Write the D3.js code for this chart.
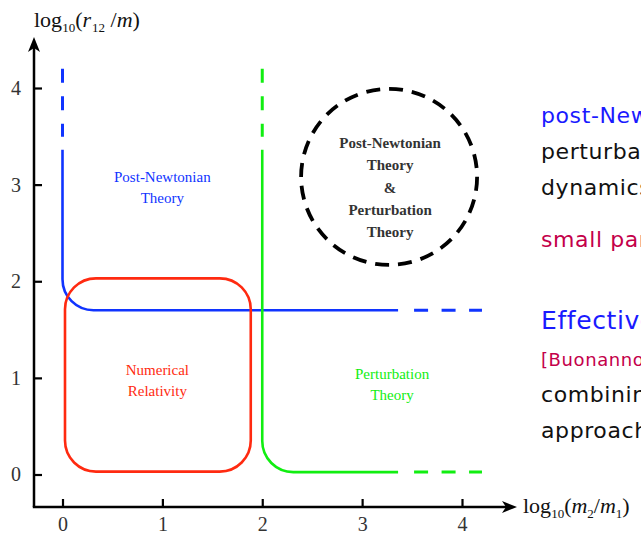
<!DOCTYPE html>
<html>
<head>
<meta charset="utf-8">
<script src="https://cdn.jsdelivr.net/npm/d3@7"></script>
<style>
  body { margin: 0; background: #fff; }
  svg { display: block; }
</style>
</head>
<body>
<div id="chart"></div>
<script>
// ---- data ----
const xTicks = [0, 1, 2, 3, 4];
const yTicks = [0, 1, 2, 3, 4];

// boundary of each region: [start, corner, end] in log units
const pnEdge = [[0, 4.2], [0, 1.7], [4.2, 1.7]];
const ptEdge = [[2, 4.2], [2, 0.025], [4.2, 0.025]];
const pnSolid = [3.36, 3.36];      // where the solid line turns dashed (y on vertical, x on horizontal)
const ptSolid = [3.36, 3.36];
const nrBox = [0.025, 0.03, 1.885, 2.03]; // x0, y0, x1, y1
const overlapCircle = [3.27, 3.08];

const regionLabels = [
  {lines: ["Post-Newtonian", "Theory"], at: [1.0, 3.03], cls: "pn"},
  {lines: ["Numerical", "Relativity"], at: [0.95, 1.03], cls: "nr"},
  {lines: ["Perturbation", "Theory"], at: [3.3, 0.99], cls: "pt"}
];
const circleLines = ["Post-Newtonian", "Theory", "&", "Perturbation", "Theory"];

const notes = [
  {text: "post-Newtonian theory:", kind: "head"},
  {text: "perturbative expansion of", kind: "body"},
  {text: "dynamics in v/c", kind: "body"},
  {text: "small parameter: v/c", kind: "cite"},
  {text: "Effective One Body", kind: "big"},
  {text: "[Buonanno & Damour 1999]", kind: "ref"},
  {text: "combining results of", kind: "body"},
  {text: "approaches", kind: "body"}
];

// ---- setup ----
const width = 641, height = 536;
const blue = "#1034ff", green = "#11ee11", red = "#ff2a10";

const svg = d3.select("#chart").append("svg")
    .attr("width", width)
    .attr("height", height);

const x = d3.scaleLinear().domain([0, 4]).range([62.5, 462]);
const y = d3.scaleLinear().domain([0, 4]).range([474.5, 88]);

const axisX = 34, axisY = 507;

// axes lines with arrows
svg.append("line").attr("x1", axisX).attr("y1", axisY).attr("x2", axisX).attr("y2", 46)
    .attr("stroke", "#000").attr("stroke-width", 2.5);
svg.append("line").attr("x1", axisX - 1.2).attr("y1", axisY).attr("x2", 508).attr("y2", axisY)
    .attr("stroke", "#000").attr("stroke-width", 2.5);
svg.append("path").attr("d", `M${axisX},37 L${axisX + 6},52 L${axisX},48 L${axisX - 6},52 Z`).attr("fill", "#000");
svg.append("path").attr("d", `M517,${axisY} L502,${axisY - 6} L506,${axisY} L502,${axisY + 6} Z`).attr("fill", "#000");

// ticks via d3 axes
const yAxis = svg.append("g")
    .attr("transform", `translate(${axisX},0)`)
    .call(d3.axisLeft(y).tickValues(yTicks).tickFormat(d3.format("d"))
      .tickSizeInner(-8).tickSizeOuter(0).tickPadding(13));
const xAxis = svg.append("g")
    .attr("transform", `translate(0,${axisY})`)
    .call(d3.axisBottom(x).tickValues(xTicks).tickFormat(d3.format("d"))
      .tickSizeInner(-8).tickSizeOuter(0).tickPadding(10));

[yAxis, xAxis].forEach(a => {
  a.select(".domain").remove();
  a.selectAll(".tick line").attr("stroke", "#000").attr("stroke-width", 2.2);
  a.selectAll(".tick text")
      .attr("fill", "#333")
      .style("font-family", "'Liberation Serif', serif")
      .style("font-size", "20px");
});

// axis titles
const serif = "'Liberation Serif', 'Times New Roman', serif";
const yTitle = svg.append("text").attr("x", 34).attr("y", 27)
    .style("font-family", serif).style("font-size", "22px").attr("fill", "#111");
yTitle.append("tspan").text("log");
yTitle.append("tspan").text("10").attr("dy", 5).style("font-size", "13px");
yTitle.append("tspan").text("(").attr("dy", -5);
yTitle.append("tspan").text("r").style("font-style", "italic");
yTitle.append("tspan").text("12").attr("dy", 5).attr("dx", 1).style("font-size", "13px");
yTitle.append("tspan").text(" /").attr("dy", -5);
yTitle.append("tspan").text("m").style("font-style", "italic");
yTitle.append("tspan").text(")");

const xTitle = svg.append("text").attr("x", 523).attr("y", 513)
    .style("font-family", serif).style("font-size", "22px").attr("fill", "#111");
xTitle.append("tspan").text("log");
xTitle.append("tspan").text("10").attr("dy", 5).style("font-size", "13px");
xTitle.append("tspan").text("(").attr("dy", -5);
xTitle.append("tspan").text("m").style("font-style", "italic");
xTitle.append("tspan").text("2").attr("dy", 5).style("font-size", "13px");
xTitle.append("tspan").text("/").attr("dy", -5);
xTitle.append("tspan").text("m").style("font-style", "italic");
xTitle.append("tspan").text("1").attr("dy", 5).style("font-size", "13px");
xTitle.append("tspan").text(")").attr("dy", -5);

// region boundary: solid rounded L plus dashed ends
function drawEdge(edge, solid, color) {
  const [s, c, e] = edge;
  const r = 31;
  const p = d3.path();
  p.moveTo(x(c[0]), y(solid[0]));
  p.arcTo(x(c[0]), y(c[1]), x(e[0]), y(c[1]), r);
  p.lineTo(x(solid[1]), y(c[1]));
  svg.append("path").attr("d", p.toString())
      .attr("fill", "none").attr("stroke", color).attr("stroke-width", 2.6);
  svg.append("line")
      .attr("x1", x(s[0])).attr("y1", y(s[1]))
      .attr("x2", x(c[0])).attr("y2", y(solid[0]) - 13)
      .attr("stroke", color).attr("stroke-width", 3)
      .attr("stroke-dasharray", "14,13.5");
  svg.append("line")
      .attr("x1", x(solid[1]) + 16).attr("y1", y(c[1]))
      .attr("x2", x(e[0])).attr("y2", y(c[1]))
      .attr("stroke", color).attr("stroke-width", 3)
      .attr("stroke-dasharray", "14,13.5");
}
drawEdge(pnEdge, pnSolid, blue);
drawEdge(ptEdge, ptSolid, green);

// numerical relativity box
svg.append("rect")
    .attr("x", x(nrBox[0])).attr("y", y(nrBox[3]))
    .attr("width", x(nrBox[2]) - x(nrBox[0]))
    .attr("height", y(nrBox[1]) - y(nrBox[3]))
    .attr("rx", 31).attr("ry", 31)
    .attr("fill", "none").attr("stroke", red).attr("stroke-width", 2.6);

// overlap circle
svg.append("circle")
    .attr("cx", x(overlapCircle[0])).attr("cy", y(overlapCircle[1])).attr("r", 88)
    .attr("fill", "none").attr("stroke", "#000").attr("stroke-width", 3.8)
    .attr("stroke-dasharray", "14,9");

svg.append("text")
    .attr("text-anchor", "middle")
    .style("font-family", serif).style("font-size", "15px").style("font-weight", "bold")
    .attr("fill", "#333")
  .selectAll("tspan").data(circleLines).join("tspan")
    .attr("x", x(overlapCircle[0]) + 1)
    .attr("y", (d, i) => 148 + i * 22.3)
    .text(d => d);

// region labels
const labelColor = {pn: blue, nr: red, pt: green};
regionLabels.forEach(l => {
  svg.append("text")
      .attr("text-anchor", "middle")
      .style("font-family", serif).style("font-size", "15px")
      .attr("fill", labelColor[l.cls])
    .selectAll("tspan").data(l.lines).join("tspan")
      .attr("x", x(l.at[0]))
      .attr("y", (d, i) => y(l.at[1]) + i * 21)
      .text(d => d);
});

// side notes (cut off by the page edge)
const noteStyle = {
  head: {size: 22, color: "#1a1aff"},
  body: {size: 22, color: "#111"},
  cite: {size: 22, color: "#c4004a"},
  big:  {size: 25, color: "#1a1aff"},
  ref:  {size: 18, color: "#c4004a"}
};
const noteY = [123, 159, 195, 247, 329, 366, 402, 438];
svg.append("g").selectAll("text").data(notes).join("text")
    .attr("x", 541)
    .attr("y", (d, i) => noteY[i])
    .style("font-family", "'DejaVu Sans', sans-serif")
    .style("font-size", d => noteStyle[d.kind].size + "px")
    .style("letter-spacing", "0.6px")
    .attr("fill", d => noteStyle[d.kind].color)
    .text(d => d.text);
</script>
</body>
</html>
